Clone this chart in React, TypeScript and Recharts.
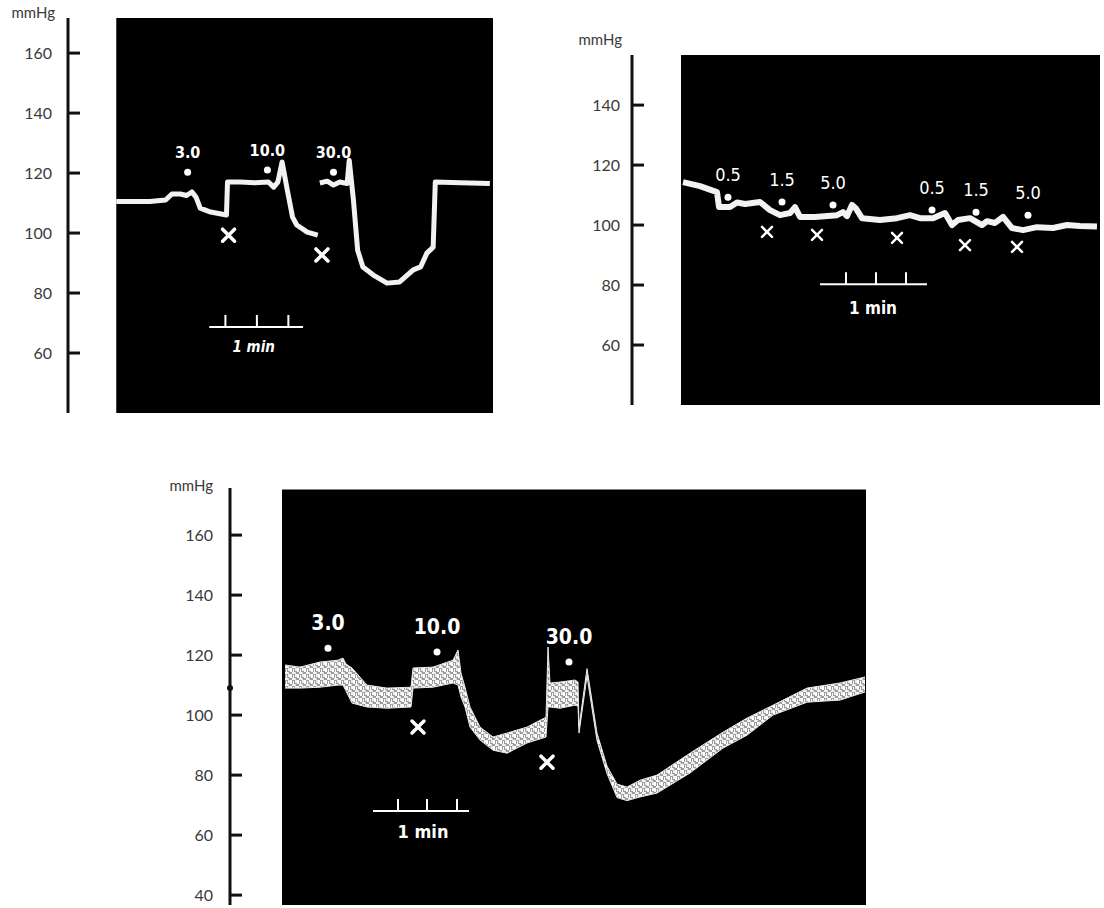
import React from 'react';
import { ComposedChart, Line, Area, Scatter, XAxis, YAxis, ReferenceArea, ReferenceLine, ReferenceDot } from 'recharts';

// ---------- Panel 1 (top left): time in s, pressure in mmHg ----------
const trace1: [number, number | null][] = [
  [0, 110.5], [32, 110.5], [47, 111], [53, 113], [61, 113], [67, 112.5], [72, 113.7], [76, 112],
  [80, 108.3], [90, 107], [105, 106], [106, 117], [118, 117], [132, 116.8], [145, 117], [150, 115.3],
  [154, 117], [158, 123.7], [163, 114.3], [168, 105.3], [172, 102.7], [182, 100.3], [192, 99.3],
  [193, null], [194, 116.7], [201, 117.3], [207, 116], [213, 117], [220, 116.5], [222, 124.3],
  [226, 111], [230, 94.3], [235, 88.7], [245, 86], [258, 83.3], [270, 83.7], [283, 87.7], [290, 88.7],
  [296, 93.3], [302, 95.3], [304, 117], [328, 116.8], [356, 116.5],
];
const doses1 = [
  { t: 68, v: 120.3, label: '3.0' },
  { t: 144, v: 121, label: '10.0' },
  { t: 207, v: 120.3, label: '30.0' },
];
const marks1 = [{ t: 107, v: 99.3 }, { t: 196, v: 92.7 }];
const ticks1 = [60, 80, 100, 120, 140, 160];
const bar1 = { from: 88.6, to: 178, level: 68.7, top: 72.7, ticks: [104, 134, 164], labelT: 131, labelV: 62.5 };

// ---------- Panel 2 (top right) ----------
const trace2: [number, number][] = [
  [2, 114.3], [19, 113], [36, 111], [38, 106], [49, 106], [56, 107.5], [64, 107], [79, 107.7],
  [89, 105], [99, 103.3], [109, 104], [114, 106], [119, 102.7], [134, 102.7], [156, 103.3],
  [162, 104.3], [166, 103], [171, 106.7], [175, 105.5], [181, 102.3], [199, 101.7], [216, 102.3],
  [229, 103.3], [239, 102.3], [252, 102.3], [264, 104], [271, 100], [277, 101.7], [289, 102.3],
  [301, 100], [306, 101.3], [314, 100.7], [322, 102.7], [331, 99], [342, 98.3], [356, 99.3],
  [372, 99], [386, 100], [399, 99.7], [416, 99.5],
];
const doses2 = [
  { t: 47, v: 109.3, label: '0.5' },
  { t: 101, v: 107.7, label: '1.5' },
  { t: 152, v: 106.7, label: '5.0' },
  { t: 251, v: 105, label: '0.5' },
  { t: 295, v: 104.3, label: '1.5' },
  { t: 347, v: 103.3, label: '5.0' },
];
const marks2 = [{ t: 86, v: 97.7 }, { t: 136, v: 96.7 }, { t: 216, v: 95.7 }, { t: 284, v: 93.3 }, { t: 336, v: 92.7 }];
const ticks2 = [60, 80, 100, 120, 140];
const bar2 = { from: 139, to: 246, level: 80.3, top: 84.3, ticks: [165, 195, 225], labelT: 192, labelV: 72.5 };

// ---------- Panel 3 (bottom): noisy band [low, high] ----------
const band3: [number, number, number][] = [
  [3, 109, 116.7], [18, 109, 116], [38, 109.3, 117.7], [56, 110, 118.3], [61, 110, 119], [64, 108, 117],
  [70, 104, 115.7], [85, 102.7, 110], [105, 102.3, 109], [129, 102.7, 109.3], [131, 109, 115.7],
  [151, 109.3, 116], [171, 110.7, 118.3], [176, 110, 121.7], [179, 106, 114], [183, 102.7, 109.3],
  [188, 96, 102.7], [198, 91.7, 96], [211, 88.3, 92.7], [225, 87.3, 94], [245, 90.7, 96],
  [264, 92.7, 99.3], [266, 102.7, 122.7], [268, 102.7, 110.7], [278, 102.3, 111], [293, 103.3, 111.7],
  [296, 103, 111], [297, 94, 96], [305, 113, 115.5], [315, 91.5, 94], [325, 80.5, 83], [335, 72.5, 77],
  [345, 71.5, 76], [358, 72.7, 78.3], [375, 74, 80], [408, 80.7, 87.3], [441, 89, 94.3],
  [465, 93.3, 99], [491, 100, 103.3], [525, 104.3, 109], [558, 105, 110.7], [583, 107.7, 112.7],
];
const doses3 = [
  { t: 46, v: 122.3, label: '3.0' },
  { t: 155, v: 121, label: '10.0' },
  { t: 287, v: 117.7, label: '30.0' },
];
const marks3 = [{ t: 136, v: 96 }, { t: 265, v: 84.3 }];
const ticks3 = [40, 60, 80, 100, 120, 140, 160];
const bar3 = { from: 91, to: 187, level: 68, top: 72, ticks: [116, 145, 175], labelT: 141, labelV: 61 };
const axisDot3 = 109;

const AXIS_FONT = 'Lato, "Open Sans", sans-serif';
const MARK_FONT = '"DejaVu Sans Condensed", "DejaVu Sans", sans-serif';

const makeTick = (gap: number) => (props: any) => {
  const { x, y, payload } = props;
  return (
    <g>
      <line x1={x} x2={x + 12} y1={y} y2={y} stroke="#111" strokeWidth={3} />
      <text x={x - gap} y={y} dy={6} textAnchor="end" fontSize={16} fontWeight={400} fill="#3a3a3a" fontFamily={AXIS_FONT}>
        {payload.value}
      </text>
    </g>
  );
};

const makeUnit = (dx: number, dy: number) => (props: any) => {
  const vb = props.viewBox || {};
  return (
    <text x={vb.x + vb.width - dx} y={vb.y + dy} textAnchor="end" fontSize={15} fontWeight={400} fill="#3a3a3a" fontFamily={AXIS_FONT}>
      mmHg
    </text>
  );
};

const makeDose = (fs: number, off: number, weight: string) => (props: any) => {
  const { cx, cy, payload } = props;
  return (
    <g>
      <circle cx={cx} cy={cy} r={3.5} fill="#fff" />
      <text x={cx} y={cy - off} textAnchor="middle" fontSize={fs} fontWeight={weight} fill="#fff" fontFamily={MARK_FONT}>
        {payload.label}
      </text>
    </g>
  );
};

const makeX = (s: number, w: number) => (props: any) => {
  const { cx, cy } = props;
  return (
    <g stroke="#fff" strokeWidth={w} strokeLinecap="round">
      <line x1={cx - s} y1={cy - s} x2={cx + s} y2={cy + s} />
      <line x1={cx - s} y1={cy + s} x2={cx + s} y2={cy - s} />
    </g>
  );
};

const minText = (fs: number, italic: boolean) => (props: any) => {
  const { cx, cy } = props;
  return (
    <text x={cx} y={cy} dy={6} textAnchor="middle" fontSize={fs} fontWeight="bold" fontStyle={italic ? 'italic' : 'normal'} fill="#fff" fontFamily={MARK_FONT}>
      1 min
    </text>
  );
};

type Bar = { from: number; to: number; level: number; top: number; ticks: number[]; labelT: number; labelV: number };
const scaleBar = (b: Bar, key: string, fs: number, italic: boolean) => [
  <ReferenceLine key={key + 'h'} segment={[{ x: b.from, y: b.level }, { x: b.to, y: b.level }]} stroke="#fff" strokeWidth={2} />,
  ...b.ticks.map((tk, i) => (
    <ReferenceLine key={key + 't' + i} segment={[{ x: tk, y: b.level }, { x: tk, y: b.top }]} stroke="#fff" strokeWidth={2} />
  )),
  <ReferenceDot key={key + 'l'} x={b.labelT} y={b.labelV} r={0} shape={minText(fs, italic)} />,
];

const toPts = (arr: [number, number | null][]) => arr.map(([t, v]) => ({ t, v }));

export default function App() {
  const d1 = toPts(trace1);
  const d2 = toPts(trace2);
  const d3 = band3.map(([t, lo, hi]) => ({ t, band: [lo, hi] }));
  return (
    <div style={{ position: 'absolute', left: 0, top: 0, width: 1104, height: 908, background: '#fff', overflow: 'hidden' }}>
      {/* Panel 1 */}
      <div style={{ position: 'absolute', left: 0, top: 0 }}>
        <ComposedChart width={500} height={420} margin={{ top: 18, right: 7, bottom: 7, left: 0 }}>
          <XAxis dataKey="t" type="number" domain={[-46, 359]} allowDataOverflow hide />
          <YAxis type="number" domain={[40, 171.7]} allowDataOverflow ticks={ticks1} width={68} tickSize={0} tickMargin={0} tickLine={false}
            axisLine={{ stroke: '#111', strokeWidth: 3 }} tick={makeTick(16)} label={{ content: makeUnit(13, 0) } as any} />
          <ReferenceArea x1={0} x2={359} y1={40} y2={171.7} fill="#000" fillOpacity={1} stroke="none" />
          <Line data={d1} dataKey="v" type="linear" stroke="#f2f2f2" strokeWidth={5} dot={false} isAnimationActive={false} connectNulls={false} strokeLinejoin="round" />
          <Scatter data={marks1} dataKey="v" shape={makeX(6, 3.5)} isAnimationActive={false} />
          <Scatter data={doses1} dataKey="v" shape={makeDose(16, 14, 'bold')} isAnimationActive={false} />
          {scaleBar(bar1, 'b1', 15, true)}
        </ComposedChart>
      </div>
      {/* Panel 2 */}
      <div style={{ position: 'absolute', left: 560, top: 0 }}>
        <ComposedChart width={544} height={420} margin={{ top: 55, right: 4, bottom: 15, left: 0 }}>
          <XAxis dataKey="t" type="number" domain={[-49, 419]} allowDataOverflow hide />
          <YAxis type="number" domain={[40, 156.7]} allowDataOverflow ticks={ticks2} width={72} tickSize={0} tickMargin={0} tickLine={false}
            axisLine={{ stroke: '#111', strokeWidth: 3 }} tick={makeTick(12)} label={{ content: makeUnit(10, -10) } as any} />
          <ReferenceArea x1={0} x2={419} y1={40} y2={156.7} fill="#000" fillOpacity={1} stroke="none" />
          <Line data={d2} dataKey="v" type="linear" stroke="#f2f2f2" strokeWidth={6} dot={false} isAnimationActive={false} strokeLinejoin="round" />
          <Scatter data={marks2} dataKey="v" shape={makeX(5, 2.5)} isAnimationActive={false} />
          <Scatter data={doses2} dataKey="v" shape={makeDose(18, 16, 'normal')} isAnimationActive={false} />
          {scaleBar(bar2, 'b2', 17, false)}
        </ComposedChart>
      </div>
      {/* Panel 3 */}
      <div style={{ position: 'absolute', left: 150, top: 470 }}>
        <svg width={0} height={0} style={{ position: 'absolute' }}>
          <defs>
            <pattern id="speck" width={7} height={6} patternUnits="userSpaceOnUse">
              <rect width={7} height={6} fill="#9c9c9c" />
              <rect x={0} y={0} width={2} height={4} fill="#fff" />
              <rect x={3} y={1} width={1} height={5} fill="#fff" />
              <rect x={5} y={0} width={2} height={3} fill="#eee" />
              <rect x={2} y={4} width={3} height={2} fill="#f4f4f4" />
              <rect x={5} y={4} width={1} height={2} fill="#ddd" />
            </pattern>
          </defs>
        </svg>
        <ComposedChart width={730} height={438} margin={{ top: 18, right: 14, bottom: 3, left: 0 }}>
          <XAxis dataKey="t" type="number" domain={[-52, 584]} allowDataOverflow hide />
          <YAxis type="number" domain={[36.7, 175.7]} allowDataOverflow ticks={ticks3} width={80} tickSize={0} tickMargin={0} tickLine={false}
            axisLine={{ stroke: '#111', strokeWidth: 3 }} tick={makeTick(17)} label={{ content: makeUnit(17, 3) } as any} />
          <ReferenceArea x1={0} x2={584} y1={36.7} y2={175.2} fill="#000" fillOpacity={1} stroke="none" />
          <Area data={d3} dataKey="band" type="linear" stroke="#e8e8e8" strokeWidth={1} fill="url(#speck)" fillOpacity={1} isAnimationActive={false} />
          <Scatter data={marks3} dataKey="v" shape={makeX(6, 3.5)} isAnimationActive={false} />
          <Scatter data={doses3} dataKey="v" shape={makeDose(21, 18, 'bold')} isAnimationActive={false} />
          <ReferenceDot x={-52} y={axisDot3} r={3} fill="#111" stroke="none" ifOverflow="visible" />
          {scaleBar(bar3, 'b3', 18, false)}
        </ComposedChart>
      </div>
    </div>
  );
}
